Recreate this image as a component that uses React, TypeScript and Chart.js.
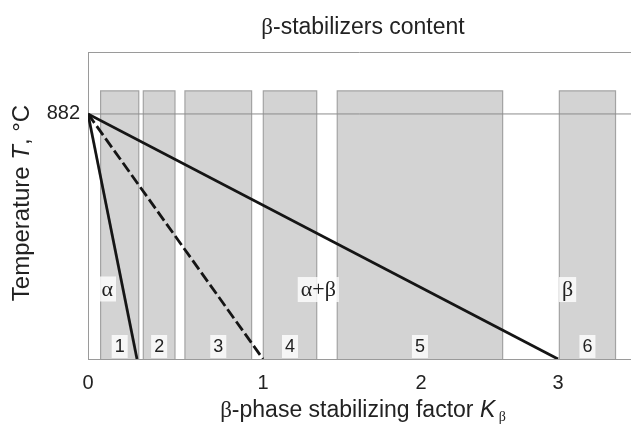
import React, { useEffect, useRef } from 'react';
import { Chart, registerables, LinearScale } from 'chart.js';

// ---- data ----
const xTickValues = [0, 1, 2, 3];
// schematic (non-uniform) K axis: K knots and their relative positions
const warpK = [0, 1, 2, 3, 4];
const warpPos = [0, 175, 333, 470, 607];
const xMin = 0;
const xMax = 3.533;
const yMin = 0;
const yMax = 1105;
const yTickValues = [882];
const transusT = 882;

const barStartK = [0.072, 0.316, 0.554, 1.002, 1.47, 3.01];
const barEndK = [0.29, 0.497, 0.935, 1.34, 2.596, 3.42];
const barNumbers = ['1', '2', '3', '4', '5', '6'];
const barTopT = 965;
const barNumberT = 45;

const lineEndK = [0.28, 1, 3];

const phaseNames = ['α', 'α+β', 'β'];
const phaseK = [0.11, 1.35, 3.07];
const phaseT = [252, 250, 250];

// ---- helpers ----
function interp(v: number, xs: number[], ys: number[]) {
  let i = 0;
  while (i < xs.length - 2 && v > xs[i + 1]) i++;
  const t = (v - xs[i]) / (xs[i + 1] - xs[i]);
  return ys[i] + t * (ys[i + 1] - ys[i]);
}
const warp = (v: number) => interp(v, warpK, warpPos);
const unwarp = (p: number) => interp(p, warpPos, warpK);

class WarpedScale extends LinearScale {
  static id = 'warped';
  static defaults = {};
  getPixelForValue(value: any) {
    if (value === null || value === undefined || isNaN(value)) return NaN;
    const a = warp((this as any).min), b = warp((this as any).max);
    return this.getPixelForDecimal((warp(value) - a) / (b - a));
  }
  getValueForPixel(pixel: number) {
    const a = warp((this as any).min), b = warp((this as any).max);
    return unwarp(a + this.getDecimalForPixel(pixel) * (b - a));
  }
}

Chart.register(...registerables, WarpedScale as any);

const SANS = '"Liberation Sans", Arial, sans-serif';
const SERIF = '"Liberation Serif", "Times New Roman", serif';
const TXT = '#222222';

type Part = { text: string; font: string; dy?: number };

function drawParts(ctx: CanvasRenderingContext2D, parts: Part[], x: number, y: number) {
  let total = 0;
  parts.forEach((p) => { ctx.font = p.font; total += ctx.measureText(p.text).width; });
  let cx = x - total / 2;
  ctx.textAlign = 'left';
  ctx.textBaseline = 'middle';
  parts.forEach((p) => {
    ctx.font = p.font;
    ctx.fillText(p.text, cx, y + (p.dy || 0));
    cx += ctx.measureText(p.text).width;
  });
  return total;
}

function boxedText(ctx: CanvasRenderingContext2D, text: string, font: string, x: number, y: number, h: number) {
  ctx.font = font;
  const w = ctx.measureText(text).width + 6;
  ctx.fillStyle = 'rgba(255,255,255,0.8)';
  ctx.fillRect(x - w / 2, y - h / 2, w, h);
  ctx.fillStyle = TXT;
  ctx.textAlign = 'center';
  ctx.textBaseline = 'middle';
  ctx.fillText(text, x, y + 1);
}

const textPlugin = {
  id: 'schematicText',
  afterDatasetsDraw(chart: any) {
    const ctx: CanvasRenderingContext2D = chart.ctx;
    const xs = chart.scales.x, ys = chart.scales.y;
    const area = chart.chartArea;
    ctx.save();
    // top frame line
    ctx.strokeStyle = '#9a9a9a';
    ctx.lineWidth = 1;
    ctx.beginPath();
    ctx.moveTo(area.left, area.top + 0.5);
    ctx.lineTo(area.right, area.top + 0.5);
    ctx.stroke();
    // bar numbers
    barNumbers.forEach((n, i) => {
      const cx = (xs.getPixelForValue(barStartK[i]) + xs.getPixelForValue(barEndK[i])) / 2;
      boxedText(ctx, n, `18px ${SANS}`, cx, ys.getPixelForValue(barNumberT), 23);
    });
    // phase labels
    phaseNames.forEach((n, i) => {
      boxedText(ctx, n, `22px ${SERIF}`, xs.getPixelForValue(phaseK[i]), ys.getPixelForValue(phaseT[i]), 25);
    });
    ctx.fillStyle = TXT;
    // title
    drawParts(ctx, [
      { text: 'β', font: `23px ${SERIF}` },
      { text: '-stabilizers content', font: `23px ${SANS}` },
    ], 363, 28);
    // x title
    drawParts(ctx, [
      { text: 'β', font: `23px ${SERIF}` },
      { text: '-phase stabilizing factor ', font: `23px ${SANS}` },
      { text: 'K', font: `italic 23px ${SANS}` },
      { text: ' β', font: `14px ${SERIF}`, dy: 6 },
    ], 363, 411);
    // y title
    ctx.translate(22, 203);
    ctx.rotate(-Math.PI / 2);
    drawParts(ctx, [
      { text: 'Temperature ', font: `24px ${SANS}` },
      { text: 'T', font: `italic 24px ${SANS}` },
      { text: ', °C', font: `24px ${SANS}` },
    ], 0, 0);
    ctx.restore();
  },
};

export default function App() {
  const ref = useRef<HTMLCanvasElement | null>(null);
  useEffect(() => {
    if (!ref.current) return;
    const datasets: any[] = [];
    // phase boundary lines (on top)
    lineEndK.forEach((k, i) => {
      datasets.push({
        data: [{ x: 0, y: transusT }, { x: k, y: 0 }],
        borderColor: '#151515',
        borderWidth: 2.8,
        borderDash: i === 1 ? [11, 4] : [],
        pointRadius: 0,
        fill: false,
        tension: 0,
      });
    });
    // transus line
    datasets.push({
      data: [{ x: xMin, y: transusT }, { x: xMax, y: transusT }],
      borderColor: '#8c8c8c',
      borderWidth: 1,
      pointRadius: 0,
      fill: false,
    });
    // bars as rectangles
    barStartK.forEach((s, i) => {
      const e = barEndK[i];
      datasets.push({
        data: [{ x: s, y: 0 }, { x: s, y: barTopT }, { x: e, y: barTopT }, { x: e, y: 0 }],
        borderColor: '#a3a3a3',
        borderWidth: 1.2,
        backgroundColor: '#d3d3d3',
        pointRadius: 0,
        fill: 'origin',
        tension: 0,
      });
    });

    const chart = new Chart(ref.current, {
      type: 'line',
      data: { datasets },
      options: {
        animation: false,
        responsive: false,
        devicePixelRatio: 1,
        layout: { padding: { top: 52, left: 0, right: 0, bottom: 0 } },
        plugins: {
          legend: { display: false },
          tooltip: { enabled: false },
          title: { display: false },
        },
        scales: {
          x: {
            type: 'warped' as any,
            min: xMin,
            max: xMax,
            afterBuildTicks: (s: any) => { s.ticks = xTickValues.map((v) => ({ value: v })); },
            afterFit: (s: any) => { s.height = 427 - 359; },
            grid: { display: false, drawTicks: false },
            border: { display: true, color: '#9a9a9a', width: 1 },
            ticks: {
              padding: 12,
              autoSkip: false,
              maxRotation: 0,
              color: TXT,
              font: { family: SANS, size: 20 },
              callback: (v: any) => String(v),
            },
          },
          y: {
            type: 'linear',
            min: yMin,
            max: yMax,
            afterBuildTicks: (s: any) => { s.ticks = yTickValues.map((v) => ({ value: v })); },
            afterFit: (s: any) => { s.width = 88; },
            grid: { display: false, drawTicks: false },
            border: { display: true, color: '#9a9a9a', width: 1 },
            ticks: {
              padding: 8,
              color: TXT,
              font: { family: SANS, size: 20 },
              callback: (v: any) => String(v),
            },
          },
        },
      } as any,
      plugins: [textPlugin],
    });
    return () => chart.destroy();
  }, []);

  return (
    <div style={{ position: 'absolute', left: 0, top: 0, width: 631, height: 427, background: '#fff' }}>
      <canvas ref={ref} width={631} height={427} style={{ width: 631, height: 427 }} />
    </div>
  );
}
